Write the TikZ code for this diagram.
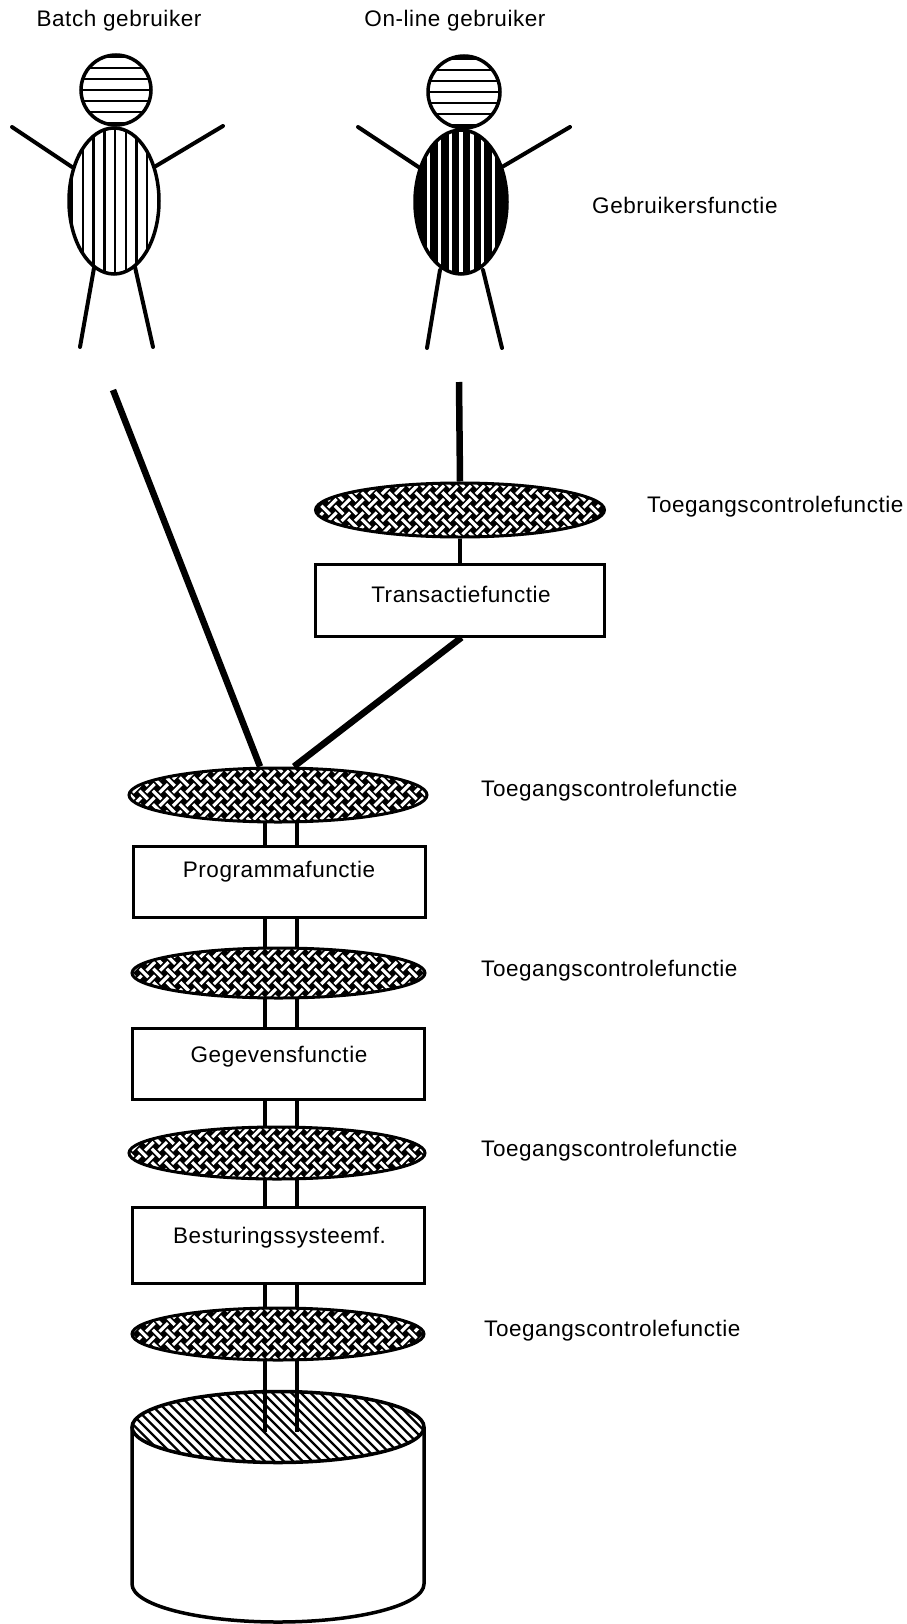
\documentclass[tikz,border=0pt]{standalone}
\usepackage{fontspec}
\setmainfont{Liberation Sans}[LetterSpace=2.5]
\usetikzlibrary{shapes.geometric,calc}

\begin{document}
\begin{tikzpicture}[x=1pt,y=-1pt,
  lbl/.style={font=\fontsize{22.5}{27}\selectfont, inner sep=0pt},
  funcbox/.style={draw, line width=3pt, fill=white, inner sep=0pt},
  thread/.style={white, line width=3.2pt, dash pattern=on 12pt off 7pt},
  weave/.style={
    path picture={
      \begin{scope}[shift={(path picture bounding box.center)}]
        \foreach \k in {-17,...,17}{
          \ifodd\k \def\pa{15.5pt}\def\pb{6pt}\else \def\pa{6pt}\def\pb{15.5pt}\fi
          \pgfmathsetmacro\o{0.70711*\k*9.5}
          % threads running one diagonal way
          \draw[thread, dash phase=\pa] (-134.35-\o,-134.35+\o) -- (134.35-\o,134.35+\o);
          % threads running the other diagonal way
          \draw[thread, dash phase=\pb] (\o+134.35,\o-134.35) -- (\o-134.35,\o+134.35);
        }
      \end{scope}}},
  guard/.style={ellipse, draw, line width=3pt, fill=black, inner sep=0pt, weave},
  limb/.style={line width=4pt, line cap=round},
  outline/.style={line width=3.5pt},
  wire/.style={line width=4.5pt},
  heavy/.style={line width=6.5pt}]

% canvas
\fill[white] (0,0) rectangle (906,1624);
\useasboundingbox (0,0) rectangle (906,1624);

% ---------- database cylinder ----------
\coordinate (db) at (278,1427);
\fill[white] (132,1427) -- (132,1584)
  arc[start angle=180, end angle=360, x radius=146pt, y radius=38pt] -- (424,1427) -- cycle;
\draw[outline] (132,1427) -- (132,1584)
  arc[start angle=180, end angle=360, x radius=146pt, y radius=38pt] -- (424,1427);
\begin{scope}
  \clip (db) ellipse[x radius=146pt, y radius=35.5pt];
  \fill[white] (db) ellipse[x radius=146pt, y radius=35.5pt];
  \foreach \i in {-24,...,24}
    \draw[line width=2.4pt] (278+\i*9.5-60,1427-60) -- (278+\i*9.5+60,1427+60);
\end{scope}
\draw[outline] (db) ellipse[x radius=146pt, y radius=35.5pt];
\coordinate (dbin) at (278,1432);

% ---------- layered column ----------
\coordinate (col) at (278,795);
\draw[wire] ($(col)+(-13,0)$) -- ($(dbin)+(-13,0)$);
\draw[wire] ($(col)+(19,0)$) -- ($(dbin)+(19,0)$);

\node[guard, minimum width=298pt, minimum height=54pt] (acc1) at (278,795) {};
\node[funcbox, minimum width=292pt, minimum height=71pt] (prog) at (279,881.5) {};
\node[guard, minimum width=293pt, minimum height=50pt] (acc2) at (278.5,973) {};
\node[funcbox, minimum width=292pt, minimum height=71pt] (data) at (278.5,1063.5) {};
\node[guard, minimum width=296pt, minimum height=52pt] (acc3) at (277,1153) {};
\node[funcbox, minimum width=292pt, minimum height=76pt] (os) at (278.5,1245) {};
\node[guard, minimum width=292pt, minimum height=52pt] (acc4) at (278,1334) {};

\node[lbl, anchor=base] at (279,877) {Programmafunctie};
\node[lbl, anchor=base] at (279,1062) {Gegevensfunctie};
\node[lbl, anchor=base] at (279.5,1243) {Besturingssysteemf.};

% ---------- on-line branch ----------
\coordinate (onfoot) at (459,382);
\node[guard, minimum width=289pt, minimum height=54pt] (acc0) at (460,510) {};
\node[funcbox, minimum width=289pt, minimum height=72pt] (trans) at (460,600) {};
\node[lbl, anchor=base] at (461,602) {Transactiefunctie};
\draw[heavy] (onfoot) -- (acc0.north);
\draw[wire] (acc0.south) -- (trans.north);

% ---------- links into the column ----------
\coordinate (batchfoot) at (113,390);
\coordinate (bin) at ($(acc1.north)+(-18,0)$);
\coordinate (tin) at ($(acc1.north)+(16,0)$);
\draw[heavy] (batchfoot) -- (bin);
\draw[heavy] ($(trans.south)+(1.5,0)$) -- (tin);

% ---------- batch user ----------
\draw[limb] (12,127) -- (72,167);
\draw[limb] (156,166) -- (223,126);
\draw[limb] (94,268) -- (80,347);
\draw[limb] (135,267) -- (153,347);
\begin{scope}
  \clip (116,90) circle[radius=35pt];
  \fill[white] (116,90) circle[radius=35pt];
  \foreach \i in {-3,...,3}
    \draw[line width=2.2pt] (78,90+\i*11) -- (154,90+\i*11);
\end{scope}
\draw[outline] (116,90) circle[radius=35pt];
\begin{scope}
  \clip (114,201) ellipse[x radius=45pt, y radius=73pt];
  \fill[white] (114,201) ellipse[x radius=45pt, y radius=73pt];
  \foreach \i in {-4,...,4}
    \draw[line width=2.4pt] (115+\i*10.7,120) -- (115+\i*10.7,280);
\end{scope}
\draw[outline] (114,201) ellipse[x radius=45pt, y radius=73pt];

% ---------- on-line user ----------
\draw[limb] (358,127) -- (420,168);
\draw[limb] (502,167) -- (570,127);
\draw[limb] (440,270) -- (427,348);
\draw[limb] (483,270) -- (502,348);
\begin{scope}
  \clip (464,92) circle[radius=36pt];
  \fill[white] (464,92) circle[radius=36pt];
  \foreach \i in {-3,...,3}
    \draw[line width=2.2pt] (425,92+\i*11) -- (503,92+\i*11);
\end{scope}
\draw[outline] (464,92) circle[radius=36pt];
\begin{scope}
  \clip (461,202) ellipse[x radius=46pt, y radius=72pt];
  \fill[black] (461,202) ellipse[x radius=46pt, y radius=72pt];
  \foreach \i in {-3,...,3}
    \draw[white, line width=3.4pt] (461+\i*10.8,120) -- (461+\i*10.8,280);
\end{scope}
\draw[outline] (461,202) ellipse[x radius=46pt, y radius=72pt];

% ---------- captions ----------
\node[lbl, anchor=base] at (119,27) {Batch gebruiker};
\node[lbl, anchor=base] at (455,27) {On-line gebruiker};
\node[lbl, anchor=base west] at (592,213) {Gebruikersfunctie};
\node[lbl, anchor=base west] at (647,512) {Toegangscontrolefunctie};
\node[lbl, anchor=base west] at (481,796) {Toegangscontrolefunctie};
\node[lbl, anchor=base west] at (481,976) {Toegangscontrolefunctie};
\node[lbl, anchor=base west] at (481,1156) {Toegangscontrolefunctie};
\node[lbl, anchor=base west] at (484,1336) {Toegangscontrolefunctie};
\end{tikzpicture}
\end{document}
